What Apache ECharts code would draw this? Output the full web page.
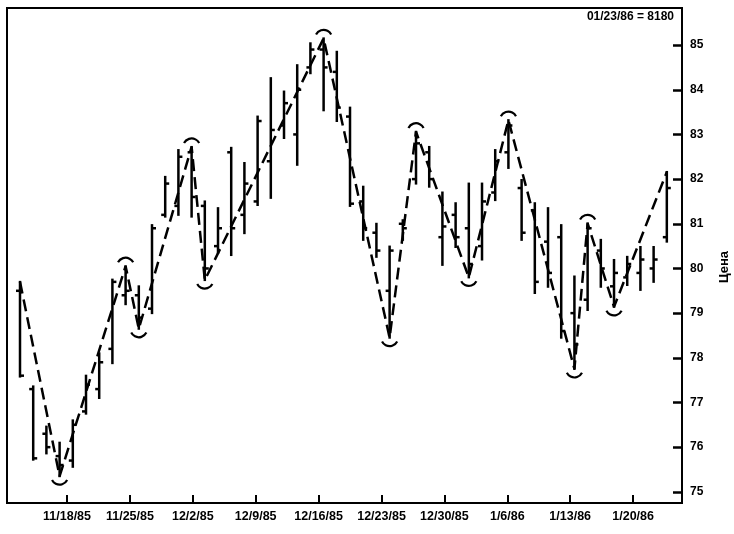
<!DOCTYPE html>
<html>
<head>
<meta charset="utf-8">
<script src="https://cdn.jsdelivr.net/npm/echarts@6/dist/echarts.min.js"></script>
<style>html,body{margin:0;padding:0;background:#fff}#c{width:734px;height:534px}</style>
</head>
<body>
<div id="c"></div>
<script>
// Trading days (bars)
const days = ['11/12/85','11/13/85','11/14/85','11/15/85','11/18/85','11/19/85','11/20/85','11/21/85','11/22/85','11/25/85','11/26/85','11/27/85','11/29/85',
'12/2/85','12/3/85','12/4/85','12/5/85','12/6/85','12/9/85','12/10/85','12/11/85','12/12/85','12/13/85','12/16/85','12/17/85','12/18/85','12/19/85','12/20/85','12/23/85','12/24/85','12/26/85','12/27/85','12/30/85','12/31/85',
'1/2/86','1/3/86','1/6/86','1/7/86','1/8/86','1/9/86','1/10/86','1/13/86','1/14/86','1/15/86','1/16/86','1/17/86','1/20/86','1/21/86','1/22/86','1/23/86'];
const opens  = [79.5,77.3,76.3,75.8,75.7,76.8,77.3,78.2,79.4,79.4,79.1,81.2,81.4,82.6,81.4,80.5,82.6,81.2,81.5,82.4,83.2,83.0,84.5,84.9,84.4,83.4,81.5,80.8,79.5,81.0,82.0,82.6,80.7,81.2,80.9,80.5,81.7,82.6,81.8,81.3,80.6,80.7,79.0,79.3,80.4,79.6,79.8,79.9,80.0,80.7];
const highs  = [79.70,77.36,76.46,76.10,76.60,77.60,78.10,79.75,80.05,79.60,80.97,82.05,82.65,82.72,81.50,81.35,82.70,82.36,83.40,84.26,83.96,84.55,85.04,85.15,84.85,83.60,81.83,81.00,80.49,81.08,83.06,82.72,81.70,81.46,81.90,81.90,82.65,83.32,81.98,81.46,81.35,80.97,79.82,81.01,80.64,80.19,80.26,80.48,80.48,82.16];
const lows   = [77.58,75.72,75.86,75.35,75.56,76.75,77.10,77.88,79.20,78.65,79.00,81.16,81.20,81.16,79.74,80.35,80.30,80.79,81.42,81.58,82.92,82.32,84.37,83.54,83.30,81.40,80.64,80.26,78.45,80.64,81.90,81.83,80.08,80.48,79.80,80.20,81.53,82.25,80.64,79.45,79.59,78.45,77.75,79.07,79.59,79.14,79.63,79.52,79.70,80.60];
const closes = [77.6,75.75,76.0,75.6,76.5,77.4,77.9,79.7,79.5,78.9,80.9,81.9,82.5,81.6,80.0,80.9,80.9,81.9,83.3,83.1,83.7,84.0,84.9,84.5,83.6,81.45,80.9,80.4,80.4,80.9,82.8,82.0,80.94,80.7,80.1,81.5,82.4,83.2,80.8,79.7,79.9,78.6,78.3,80.9,80.0,79.9,80.1,80.2,80.2,81.8];

// Swing points (bar index, 'H' = high, 'L' = low); first and last are line ends without arcs
const swingIdx  = [0,3,8,9,13,14,23,28,30,34,37,42,43,45,49];
const swingType = ['H','L','H','L','H','L','H','L','H','L','H','L','H','L','H'];

// Axis tick labels (weekly)
const weekLabels = ['11/18/85','11/25/85','12/2/85','12/9/85','12/16/85','12/23/85','12/30/85','1/6/86','1/13/86','1/20/86'];
const priceTicks = [75,76,77,78,79,80,81,82,83,84,85];
const note = '01/23/86 = 8180';
const yName = 'Цена';

const ohlcData = days.map((d, i) => [i, opens[i], highs[i], lows[i], closes[i]]);
const swingData = swingIdx.map((k, j) => [k, swingType[j] === 'H' ? highs[k] : lows[k], swingType[j] === 'H' ? 1 : -1]);
const arcData = swingData.slice(1, -1);
const weekDays = weekLabels.map((s, k) => k * 7);

const FONT = '"Liberation Sans", Arial, sans-serif';
const chart = echarts.init(document.getElementById('c'), null, {renderer: 'canvas'});

chart.setOption({
  animation: false,
  backgroundColor: '#fff',
  grid: {left: 7, right: 52, top: 8, bottom: 31, show: true, borderColor: '#000', borderWidth: 2, backgroundColor: 'transparent'},
  xAxis: [
    {type: 'value', min: -0.985, max: 50.15, show: false, axisLine: {onZero: false}},
    {type: 'value', min: -6.68, max: 68.44, position: 'bottom',
     axisLine: {show: true, onZero: false, lineStyle: {color: '#000', width: 2}},
     axisTick: {show: true, inside: true, length: 8, lineStyle: {color: '#000', width: 2}, customValues: weekDays},
     axisLabel: {show: true, customValues: weekDays, margin: 7, color: '#000', fontFamily: FONT, fontWeight: 'bold', fontSize: 12.5,
       formatter: v => weekLabels[Math.round(v / 7)] || ''},
     splitLine: {show: false}}
  ],
  yAxis: {type: 'value', position: 'right', min: 74.75, max: 85.83,
    axisLine: {show: true, onZero: false, lineStyle: {color: '#000', width: 2}},
    axisTick: {show: true, inside: true, length: 9, lineStyle: {color: '#000', width: 2.5}, customValues: priceTicks},
    axisLabel: {show: true, customValues: priceTicks, margin: 8, color: '#000', fontFamily: FONT, fontWeight: 'bold', fontSize: 12},
    splitLine: {show: false}},
  graphic: [
    {type: 'text', right: 60, top: 11, style: {text: note, fill: '#000', font: 'bold 12px ' + FONT}},
    {type: 'text', x: 724, y: 267, rotation: Math.PI / 2,
     style: {text: yName, fill: '#000', font: 'bold 13px ' + FONT, align: 'center', verticalAlign: 'middle'}}
  ],
  series: [
    {type: 'custom', xAxisIndex: 0, data: ohlcData, encode: {x: 0, y: [2, 3]}, clip: false,
     renderItem: (params, api) => {
       const x = api.value(0);
       const pO = api.coord([x, api.value(1)]), pH = api.coord([x, api.value(2)]);
       const pL = api.coord([x, api.value(3)]), pC = api.coord([x, api.value(4)]);
       const st = {stroke: '#000', lineWidth: 2.5, fill: null};
       return {type: 'group', children: [
         {type: 'line', shape: {x1: pH[0], y1: pH[1] - 1, x2: pL[0], y2: pL[1] + 1}, style: st},
         {type: 'line', shape: {x1: pO[0] - 4, y1: pO[1], x2: pO[0], y2: pO[1]}, style: st},
         {type: 'line', shape: {x1: pC[0], y1: pC[1], x2: pC[0] + 4, y2: pC[1]}, style: st}
       ]};
     }},
    {type: 'line', xAxisIndex: 0, data: swingData.map(p => [p[0], p[1]]), symbol: 'none',
     lineStyle: {color: '#000', width: 2.5, type: [12, 6]}, z: 3},
    {type: 'custom', xAxisIndex: 0, data: arcData, encode: {x: 0, y: 1},
     renderItem: (params, api) => {
       const p = api.coord([api.value(0), api.value(1)]);
       const up = api.value(2) > 0;
       const mid = up ? -Math.PI / 2 : Math.PI / 2;
       return {type: 'arc', shape: {cx: p[0], cy: p[1], r: 8.5, startAngle: mid - 1.1, endAngle: mid + 1.1, clockwise: true},
         style: {stroke: '#000', lineWidth: 2.2, fill: null}};
     }}
  ]
});
</script>
</body>
</html>
